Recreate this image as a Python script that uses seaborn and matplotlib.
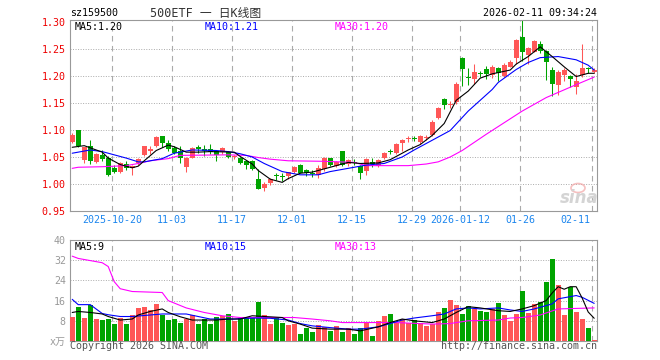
import matplotlib
matplotlib.use("Agg")
import matplotlib.pyplot as plt
from matplotlib.patches import Ellipse
import seaborn as sns
import numpy as np

# daily K line, 500ETF (sz159500), 88 sessions up to 2026-02-11
opens = [1.078, 1.100, 1.045, 1.070, 1.040, 1.053, 1.049, 1.030, 1.022, 1.037,
         1.029, 1.038, 1.054, 1.062, 1.070, 1.088, 1.076, 1.067, 1.062, 1.031,
         1.049, 1.068, 1.065, 1.065, 1.061, 1.059, 1.059, 1.050, 1.048, 1.042,
         1.043, 1.010, 0.992, 1.002, 1.015, 1.014, 1.014, 1.022, 1.035, 1.025,
         1.020, 1.017, 1.027, 1.048, 1.033, 1.061, 1.037, 1.040, 1.033, 1.024,
         1.040, 1.033, 1.049, 1.061, 1.058, 1.075, 1.083, 1.085, 1.077, 1.085,
         1.091, 1.122, 1.157, 1.146, 1.151, 1.234, 1.198, 1.195, 1.205, 1.213,
         1.202, 1.214, 1.200, 1.217, 1.233, 1.273, 1.239, 1.245, 1.260, 1.247,
         1.212, 1.183, 1.202, 1.200, 1.180, 1.202, 1.2136, 1.207]
highs = [1.094, 1.100, 1.069, 1.082, 1.057, 1.063, 1.051, 1.035, 1.041, 1.042,
         1.036, 1.049, 1.071, 1.070, 1.089, 1.089, 1.082, 1.070, 1.070, 1.050,
         1.069, 1.072, 1.072, 1.074, 1.062, 1.068, 1.061, 1.054, 1.050, 1.045,
         1.045, 1.027, 1.004, 1.012, 1.020, 1.020, 1.023, 1.033, 1.037, 1.027,
         1.025, 1.035, 1.050, 1.049, 1.043, 1.062, 1.047, 1.046, 1.036, 1.049,
         1.048, 1.047, 1.060, 1.065, 1.076, 1.083, 1.088, 1.089, 1.091, 1.090,
         1.118, 1.142, 1.159, 1.153, 1.189, 1.235, 1.214, 1.223, 1.209, 1.219,
         1.221, 1.216, 1.224, 1.229, 1.269, 1.303, 1.254, 1.267, 1.265, 1.248,
         1.216, 1.211, 1.215, 1.202, 1.204, 1.259, 1.216, 1.214]
lows = [1.076, 1.068, 1.038, 1.037, 1.038, 1.042, 1.015, 1.020, 1.020, 1.025,
        1.017, 1.036, 1.052, 1.055, 1.068, 1.069, 1.061, 1.055, 1.039, 1.023,
        1.048, 1.057, 1.051, 1.055, 1.043, 1.056, 1.048, 1.047, 1.037, 1.027,
        1.025, 0.990, 0.987, 0.999, 1.007, 1.006, 1.010, 1.020, 1.020, 1.014,
        1.013, 1.012, 1.024, 1.034, 1.031, 1.033, 1.033, 1.035, 1.009, 1.017,
        1.032, 1.031, 1.046, 1.056, 1.055, 1.061, 1.078, 1.079, 1.074, 1.082,
        1.089, 1.120, 1.138, 1.140, 1.149, 1.181, 1.184, 1.186, 1.199, 1.195,
        1.197, 1.190, 1.198, 1.216, 1.222, 1.228, 1.222, 1.244, 1.243, 1.193,
        1.163, 1.165, 1.191, 1.180, 1.166, 1.199, 1.206, 1.205]
closes = [1.091, 1.070, 1.068, 1.042, 1.056, 1.046, 1.017, 1.022, 1.039, 1.030,
          1.034, 1.047, 1.070, 1.064, 1.087, 1.075, 1.064, 1.057, 1.048, 1.049,
          1.067, 1.064, 1.061, 1.059, 1.054, 1.067, 1.050, 1.052, 1.039, 1.036,
          1.028, 0.991, 1.000, 1.010, 1.014, 1.013, 1.022, 1.032, 1.021, 1.020,
          1.019, 1.029, 1.049, 1.035, 1.041, 1.035, 1.044, 1.038, 1.021, 1.046,
          1.037, 1.044, 1.057, 1.059, 1.074, 1.082, 1.085, 1.083, 1.088, 1.087,
          1.115, 1.140, 1.146, 1.148, 1.186, 1.2136, 1.196, 1.208, 1.203, 1.204,
          1.217, 1.205, 1.220, 1.225, 1.267, 1.245, 1.251, 1.265, 1.247, 1.225,
          1.186, 1.208, 1.212, 1.194, 1.190, 1.214, 1.2124, 1.212]
# volume, unit 万
volumes = [9.6, 13.6, 9.2, 14.4, 8.8, 8.4, 8.9, 6.9, 9.2, 6.9,
           10.4, 13.2, 13.6, 12.4, 14.8, 10.4, 8.5, 8.8, 7.3, 8.8,
           10.4, 6.9, 8.8, 6.9, 9.6, 10.0, 10.8, 8.1, 9.2, 9.2,
           9.2, 15.3, 10.4, 6.9, 9.6, 7.3, 6.5, 6.9, 2.9, 5.3,
           3.7, 6.4, 5.6, 4.0, 6.0, 3.6, 5.2, 2.8, 5.2, 7.2,
           2.0, 8.0, 10.0, 10.8, 7.2, 8.8, 7.2, 8.4, 7.2, 6.0,
           6.8, 11.6, 13.2, 16.4, 14.4, 10.8, 14.0, 12.8, 12.0, 11.6,
           12.8, 15.2, 10.4, 8.0, 10.8, 20.0, 11.2, 14.8, 15.6, 23.2,
           32.4, 22.0, 10.4, 21.2, 11.6, 8.8, 5.2, 0.4]

date_idx = [7, 17, 27, 37, 47, 57, 65, 75, 87]
date_labels = ["2025-10-20", "11-03", "11-17", "12-01", "12-15",
               "12-29", "2026-01-12", "01-26", "02-11"]

# moving averages (session index, value)
ma5_idx = [0, 2, 3, 5, 6, 8, 10, 11, 12, 14, 16, 17, 19, 21, 23, 27, 28, 30, 31, 33,
           35, 36, 38, 40, 42, 44, 46, 48, 51, 53, 56, 58, 60, 62, 64, 66, 68, 70, 73,
           74, 76, 78, 80, 82, 84, 86, 87]
ma5_val = [1.068, 1.071, 1.067, 1.059, 1.048, 1.036, 1.030, 1.033, 1.043, 1.062,
           1.072, 1.069, 1.059, 1.059, 1.060, 1.059, 1.051, 1.037, 1.025, 1.009,
           1.003, 1.010, 1.020, 1.022, 1.028, 1.034, 1.040, 1.038, 1.039, 1.045,
           1.063, 1.073, 1.090, 1.112, 1.155, 1.172, 1.196, 1.204, 1.211,
           1.222, 1.236, 1.254, 1.236, 1.217, 1.199, 1.205, 1.205]
ma10_idx = [0, 3, 5, 7, 9, 11, 12, 15, 17, 20, 24, 26, 28, 30, 32, 35, 38, 41, 43,
            46, 49, 52, 55, 57, 60, 63, 66, 68, 70, 71, 74, 76, 78, 81, 84, 86, 87]
ma10_val = [1.057, 1.063, 1.060, 1.054, 1.048, 1.041, 1.041, 1.047, 1.057, 1.063,
            1.062, 1.060, 1.056, 1.050, 1.038, 1.023, 1.017, 1.017, 1.023,
            1.029, 1.035, 1.038, 1.050, 1.063, 1.081, 1.099, 1.135, 1.155, 1.175,
            1.188, 1.212, 1.225, 1.234, 1.236, 1.230, 1.220, 1.211]
ma30_idx = [0, 1, 5, 9, 11, 13, 16, 18, 26, 29, 31, 33, 36, 42, 47, 49, 56, 59, 61,
            63, 65, 69, 75, 79, 84, 87]
ma30_val = [1.029, 1.031, 1.032, 1.034, 1.038, 1.043, 1.047, 1.053, 1.054, 1.053,
            1.049, 1.046, 1.043, 1.042, 1.040, 1.034, 1.034, 1.037, 1.041,
            1.050, 1.062, 1.092, 1.135, 1.160, 1.184, 1.198]

vma5_idx = [0, 1, 3, 5, 6, 8, 10, 11, 13, 15, 16, 18, 20, 24, 26, 28, 30, 32, 35, 36,
            38, 40, 43, 46, 48, 51, 53, 55, 57, 60, 62, 64, 66, 68, 71, 73, 75, 77,
            79, 80, 81, 82, 83, 84, 85, 86, 87]
vma5_val = [11.3, 11.7, 11.3, 10.7, 9.7, 8.3, 8.7, 10.3, 11.7, 12.7, 11.3, 9.6,
            8.3, 8.3, 8.7, 8.7, 10.0, 9.7, 9.3, 8.0, 6.7, 5.1, 4.7, 4.7, 4.0,
            5.6, 7.3, 8.7, 8.0, 7.3, 8.7, 11.3, 13.6, 13.1, 12.0, 11.7, 12.7, 14.0,
            16.0, 19.0, 21.5, 20.5, 21.5, 21.5, 17.0, 11.5, 9.0]
vma10_idx = [0, 1, 3, 5, 6, 8, 10, 13, 15, 19, 21, 23, 27, 29, 31, 33, 36, 38, 40,
             43, 46, 48, 51, 53, 55, 57, 60, 62, 64, 66, 68, 71, 73, 75, 77, 80,
             81, 84, 85, 87]
vma10_val = [16.5, 14.4, 14.4, 10.9, 10.4, 9.7, 9.7, 10.3, 10.7, 10.7, 9.7, 8.7,
             8.7, 9.0, 9.1, 9.0, 8.3, 6.9, 6.0, 5.3, 4.7, 4.7, 5.6, 6.9, 8.3, 9.1,
             10.0, 10.7, 12.7, 13.1, 12.7, 13.1, 12.3, 11.7, 12.7, 14.7, 16.7,
             18.0, 17.3, 14.9]
vma30_idx = [0, 1, 5, 6, 7, 8, 10, 15, 16, 19, 22, 25, 28, 37, 40, 43, 45, 54, 60,
             63, 64, 66, 71, 73, 75, 78, 81, 87]
vma30_val = [33.6, 32.7, 31.0, 29.5, 23.5, 20.7, 19.6, 19.2, 16.0, 13.1, 11.3,
             10.0, 9.3, 9.3, 8.7, 8.0, 7.3, 7.3, 6.7, 6.9, 7.3, 8.0, 8.3, 9.1,
             9.3, 10.3, 12.7, 13.1]

RED = "#FF5757"
GREEN = "#00A400"
GRID = "#AAAAAA"

sns.set_style("white")
plt.rcParams['font.family'] = ['DejaVu Sans Mono', 'Noto Sans CJK SC']

W, H = 660, 360
fig = plt.figure(figsize=(6.6, 3.6), dpi=100)


def box(l, t, r, b):
    return [l / W, 1 - b / H, (r - l) / W, (b - t) / H]


def ftext(x, y, s, **kw):
    fig.text(x / W, 1 - y / H, s, va="center", **kw)


ax = fig.add_axes(box(70, 20, 597, 211))
axv = fig.add_axes(box(70, 240, 597, 341))

x = np.arange(len(closes))
o = np.array(opens)
c = np.array(closes)
cols = np.where(c >= o, RED, GREEN)

# candles
ax.vlines(x, lows, highs, colors=cols, lw=0.75, zorder=2)
ax.bar(x, np.maximum(np.abs(c - o), 0.0018), bottom=np.minimum(o, c),
       width=0.8, color=cols, lw=0, zorder=3)
sns.lineplot(x=ma30_idx, y=ma30_val, ax=ax, color="#FF00FF", lw=0.8, zorder=4)
sns.lineplot(x=ma10_idx, y=ma10_val, ax=ax, color="#0000FF", lw=0.8, zorder=5)
sns.lineplot(x=ma5_idx, y=ma5_val, ax=ax, color="black", lw=0.8, zorder=6)

# volume
axv.bar(x, volumes, width=0.8, color=cols, lw=0, zorder=3)
sns.lineplot(x=vma30_idx, y=vma30_val, ax=axv, color="#FF00FF", lw=0.8, zorder=4)
sns.lineplot(x=vma10_idx, y=vma10_val, ax=axv, color="#0000FF", lw=0.8, zorder=5)
sns.lineplot(x=vma5_idx, y=vma5_val, ax=axv, color="black", lw=0.8, zorder=6)

price_ticks = [0.95, 1.00, 1.05, 1.10, 1.15, 1.20, 1.25, 1.30]
vol_ticks = [0, 8, 16, 24, 32, 40]

for a in (ax, axv):
    a.set_xlim(-0.37, 87.47)
    a.set_xticks([])
    a.set_xlabel("")
    a.set_ylabel("")
    for s in a.spines.values():
        s.set_color("#999999")
        s.set_linewidth(0.8)
    for i in date_idx:
        a.axvline(i - 0.33, color=GRID, lw=0.8, ls=(0, (5, 4)), zorder=1)

ax.set_ylim(0.95, 1.3037)
ax.set_yticks(price_ticks)
ax.set_yticklabels(["%.2f" % t for t in price_ticks])
ax.tick_params(axis="y", length=0, pad=3, labelsize=7.2, labelcolor="#EE0000")
for v in price_ticks[1:-1]:
    ax.axhline(v, color=GRID, lw=0.7, ls=(0, (1, 1.6)), zorder=1)

axv.set_ylim(0, 40)
axv.set_yticks(vol_ticks)
axv.set_yticklabels(["x万"] + [str(t) for t in vol_ticks[1:]])
axv.tick_params(axis="y", length=0, pad=3, labelsize=7.2, labelcolor="#999999")
for v in vol_ticks[1:-1]:
    axv.axhline(v, color=GRID, lw=0.7, ls=(0, (1, 1.6)), zorder=1)

# date labels under the price panel
for i, lab in zip(date_idx, date_labels):
    if i == date_idx[-1]:
        ax.text(87.47 - 1.1, -0.045, lab, transform=ax.get_xaxis_transform(),
                ha="right", va="center", fontsize=7.2, color="#1C86EE")
    else:
        ax.text(i - 0.33, -0.045, lab, transform=ax.get_xaxis_transform(),
                ha="center", va="center", fontsize=7.2, color="#1C86EE")

# header and legends
ftext(70, 13, "sz159500", fontsize=7.2, color="black")
ftext(150, 13, "500ETF 一 日K线图", fontsize=8.5, color="#333333")
ftext(597, 13, "2026-02-11 09:34:24", fontsize=7.2, color="black", ha="right")
ftext(75, 27, "MA5:1.20", fontsize=7.2, color="black")
ftext(205, 27, "MA10:1.21", fontsize=7.2, color="#0000FF")
ftext(335, 27, "MA30:1.20", fontsize=7.2, color="#FF00FF")
ftext(75, 247, "MA5:9", fontsize=7.2, color="black")
ftext(205, 247, "MA10:15", fontsize=7.2, color="#0000FF")
ftext(335, 247, "MA30:13", fontsize=7.2, color="#FF00FF")
ftext(70, 346, "Copyright 2026 SINA.COM", fontsize=7.2, color="#555555")
ftext(597, 346, "http://finance.sina.com.cn", fontsize=7.2, color="#555555", ha="right")

# sina watermark
ftext(579, 198, "sina", fontsize=12, color="#D4D4D4", ha="center",
      fontweight="bold", style="italic", family="DejaVu Sans")
fig.patches.append(Ellipse((578 / W, 1 - 188 / H), 14 / W, 9 / H,
                           transform=fig.transFigure, fill=False,
                           edgecolor="#F3A5A5", lw=1.2, alpha=0.7))

fig.savefig("out.png", dpi=100)
